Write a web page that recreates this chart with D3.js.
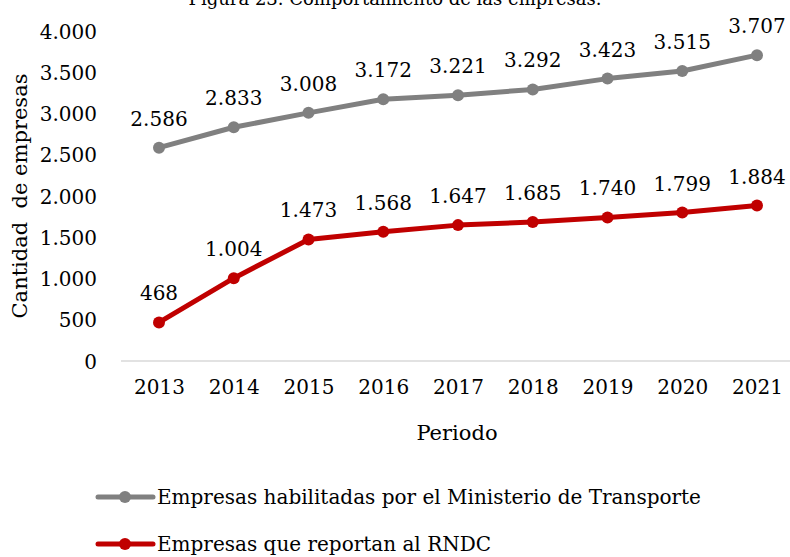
<!DOCTYPE html>
<html>
<head>
<meta charset="utf-8">
<script src="https://cdn.jsdelivr.net/npm/d3@7"></script>
<style>
  html, body { margin: 0; padding: 0; background: #fff; }
  text { font-family: "DejaVu Serif", "Liberation Serif", serif; fill: #000; }
</style>
</head>
<body>
<svg id="chart" width="790" height="557"></svg>
<script>
const years = ["2013","2014","2015","2016","2017","2018","2019","2020","2021"];
const habilitadas = [2586, 2833, 3008, 3172, 3221, 3292, 3423, 3515, 3707];
const rndc = [468, 1004, 1473, 1568, 1647, 1685, 1740, 1799, 1884];
const yTicks = [0, 500, 1000, 1500, 2000, 2500, 3000, 3500, 4000];
const seriesNames = ["Empresas habilitadas por el Ministerio de Transporte", "Empresas que reportan al RNDC"];
const seriesColors = ["#808080", "#C00000"];
const title = "Figura 23. Comportamiento de las empresas.";

const svg = d3.select("#chart");
const fmt = v => d3.format(",")(v).replace(/,/g, ".");

const x = d3.scalePoint().domain(years).range([159, 757]);
const y = d3.scaleLinear().domain([0, 4000]).range([361, 31]);

// title (clipped at top, as in the reference)
svg.append("text").attr("x", 395).attr("y", 5).attr("text-anchor", "middle")
  .style("font-size", "18px").text(title);

// baseline gridline
svg.append("line").attr("x1", 121).attr("x2", 790).attr("y1", y(0)).attr("y2", y(0))
  .attr("stroke", "#d9d9d9").attr("stroke-width", 1.5);

// y axis
const yAxis = d3.axisLeft(y).tickValues(yTicks).tickFormat(fmt).tickSize(0).tickPadding(0);
const gy = svg.append("g").attr("transform", "translate(97,0)").call(yAxis);
gy.select(".domain").remove();
gy.selectAll("text").style("font-size", "20px").style("font-family", "DejaVu Serif, serif").attr("dy", "0.35em");

// x axis
const xAxis = d3.axisBottom(x).tickSize(0).tickPadding(0);
const gx = svg.append("g").attr("transform", "translate(0,379)").call(xAxis);
gx.select(".domain").remove();
gx.selectAll("text").style("font-size", "20px").style("font-family", "DejaVu Serif, serif").attr("dy", "0.75em");

// axis titles
svg.append("text").attr("x", 457).attr("y", 440).attr("text-anchor", "middle")
  .style("font-size", "21px").text("Periodo");
svg.append("text").attr("transform", "translate(27,196) rotate(-90)").attr("text-anchor", "middle")
  .style("font-size", "21px").style("white-space", "pre").text("Cantidad  de empresas");

const line = d3.line().x((d, i) => x(years[i])).y(d => y(d));
[habilitadas, rndc].forEach((vals, si) => {
  const g = svg.append("g");
  g.append("path").datum(vals).attr("d", line).attr("fill", "none")
    .attr("stroke", seriesColors[si]).attr("stroke-width", 5).attr("stroke-linejoin", "round");
  g.selectAll("circle").data(vals).join("circle")
    .attr("cx", (d, i) => x(years[i])).attr("cy", d => y(d)).attr("r", 6)
    .attr("fill", seriesColors[si]);
  g.selectAll("text.lbl").data(vals).join("text").attr("class", "lbl")
    .attr("x", (d, i) => x(years[i])).attr("y", d => y(d) - 22)
    .attr("text-anchor", "middle").style("font-size", "20px").text(d => fmt(d));
});

// legend
seriesNames.forEach((name, i) => {
  const ly = 497 + i * 47;
  const g = svg.append("g");
  g.append("line").attr("x1", 98).attr("x2", 153).attr("y1", ly).attr("y2", ly)
    .attr("stroke", seriesColors[i]).attr("stroke-width", 5).attr("stroke-linecap", "round");
  g.append("circle").attr("cx", 125).attr("cy", ly).attr("r", 6).attr("fill", seriesColors[i]);
  g.append("text").attr("x", 157).attr("y", ly).attr("dy", "0.35em")
    .style("font-size", "20px").text(name);
});
</script>
</body>
</html>
